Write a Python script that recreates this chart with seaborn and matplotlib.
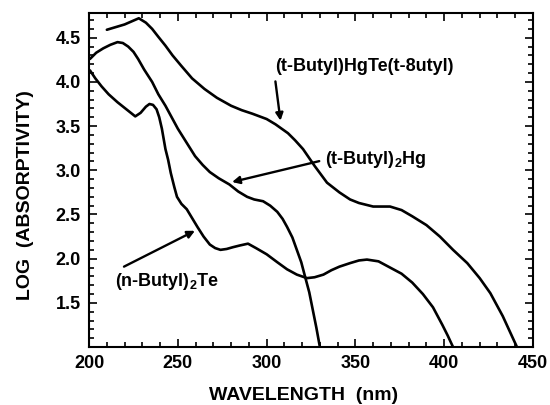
import matplotlib
matplotlib.use("Agg")
import matplotlib.pyplot as plt
from matplotlib.ticker import MultipleLocator
import seaborn as sns
import pandas as pd

# Curves (wavelength in nm, log absorptivity)
hgte_wl = [210, 220, 228, 232, 235.5, 239, 243, 247, 252, 258, 265, 272, 280, 286, 292, 300, 305,
           312, 316, 320.5, 327, 334, 341, 347, 352, 360, 369.5, 376, 382, 390, 397.6, 405, 413,
           420, 426, 433, 441]
hgte_abs = [4.59, 4.65, 4.72, 4.67, 4.60, 4.51, 4.41, 4.30, 4.18, 4.04, 3.92, 3.82, 3.73, 3.68,
            3.64, 3.58, 3.52, 3.42, 3.34, 3.24, 3.05, 2.86, 2.75, 2.67, 2.63, 2.59, 2.59, 2.55,
            2.48, 2.38, 2.25, 2.10, 1.95, 1.78, 1.61, 1.35, 1.0]

hg_wl = [200.5, 204, 208, 212, 216, 219, 222, 225, 227.6, 231, 235.5, 239, 243, 246.5, 250, 255,
         259.7, 264, 268, 273, 279, 284, 289, 293, 298, 302, 306, 309, 311.5, 314.5, 317, 319.5,
         321.6, 324, 326, 328, 330]
hg_abs = [4.26, 4.33, 4.38, 4.42, 4.45, 4.44, 4.40, 4.34, 4.26, 4.14, 4.00, 3.86, 3.73, 3.60,
          3.47, 3.31, 3.16, 3.06, 2.98, 2.91, 2.84, 2.76, 2.70, 2.67, 2.65, 2.60, 2.53, 2.45,
          2.36, 2.24, 2.10, 1.96, 1.80, 1.62, 1.42, 1.22, 1.0]

te_wl = [200.5, 203.5, 207, 211, 216, 221, 226, 229, 232, 234, 236, 238, 239.5, 241, 243, 244.5,
         246, 248, 249.5, 252, 255, 258, 261, 264.5, 268, 271, 274, 277.5, 281, 285, 289.5, 294,
         300, 306, 311.5, 317, 322.7, 327, 332, 336.5, 341, 347, 352, 356.5, 363, 369.5, 376,
         382, 388, 393.7, 399, 402, 405]
te_abs = [4.13, 4.04, 3.95, 3.86, 3.77, 3.69, 3.61, 3.65, 3.72, 3.75, 3.74, 3.69, 3.60, 3.47,
          3.24, 3.12, 2.97, 2.81, 2.70, 2.62, 2.56, 2.46, 2.36, 2.25, 2.16, 2.12, 2.10, 2.11,
          2.13, 2.15, 2.17, 2.12, 2.05, 1.96, 1.88, 1.82, 1.78, 1.79, 1.82, 1.87, 1.91, 1.95,
          1.98, 1.99, 1.97, 1.90, 1.83, 1.73, 1.60, 1.45, 1.25, 1.13, 1.0]

sns.set_style("ticks", {"axes.edgecolor": "black", "text.color": "black",
                        "axes.labelcolor": "black", "xtick.color": "black",
                        "ytick.color": "black"})
plt.rcParams["font.family"] = ["Liberation Sans", "DejaVu Sans"]
plt.rcParams["mathtext.default"] = "regular"

fig = plt.figure(figsize=(5.5, 4.05), dpi=100)
ax = fig.add_axes([0.162, 0.143, 0.807, 0.825])

for wl, ab in [(hgte_wl, hgte_abs), (hg_wl, hg_abs), (te_wl, te_abs)]:
    df = pd.DataFrame({"wl": wl, "abs": ab})
    sns.lineplot(data=df, x="wl", y="abs", ax=ax, color="black", lw=1.9,
                 sort=False, estimator=None)

ax.set_xlim(200, 450)
ax.set_ylim(1.0, 4.78)
ax.xaxis.set_major_locator(MultipleLocator(50))
ax.xaxis.set_minor_locator(MultipleLocator(10))
ax.set_yticks([1.5, 2.0, 2.5, 3.0, 3.5, 4.0, 4.5])
ax.yaxis.set_minor_locator(MultipleLocator(0.1))
ax.tick_params(which="both", direction="in", top=True, right=True, width=1.2, color="black")
ax.tick_params(which="major", length=6, labelsize=13, pad=6, labelcolor="black")
ax.tick_params(which="minor", length=3.5)
for lab in ax.get_xticklabels() + ax.get_yticklabels():
    lab.set_fontweight("bold")
for sp in ax.spines.values():
    sp.set_linewidth(1.5)
    sp.set_color("black")

ax.set_xlabel("WAVELENGTH  (nm)", fontsize=14, fontweight="bold", color="black")
ax.set_ylabel("LOG  (ABSORPTIVITY)", fontsize=14, fontweight="bold", color="black")
ax.xaxis.set_label_coords(0.484, -0.118)
ax.yaxis.set_label_coords(-0.125, 0.455)

arrow = dict(arrowstyle="-|>", color="black", lw=1.7, mutation_scale=11)
ax.annotate("(t-Butyl)HgTe(t-8utyl)", xy=(308, 3.53), xytext=(304.5, 4.17),
            fontsize=13, fontweight="bold", color="black", va="center", ha="left",
            arrowprops=dict(arrow, relpos=(0, 0)))
ax.annotate("(t-Butyl)$_2$Hg", xy=(279, 2.86), xytext=(333, 3.12),
            fontsize=13, fontweight="bold", color="black", va="center", ha="left",
            arrowprops=dict(arrow, relpos=(0, 0.5)))
ax.annotate("(n-Butyl)$_2$Te", xy=(261, 2.33), xytext=(214.6, 1.74),
            fontsize=13, fontweight="bold", color="black", va="center", ha="left",
            arrowprops=dict(arrow, relpos=(0, 1)))

plt.savefig("out.png", dpi=100)
